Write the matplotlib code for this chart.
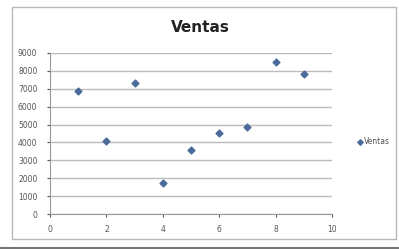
import matplotlib.pyplot as plt
from matplotlib.patches import Rectangle
from matplotlib.lines import Line2D

x_values = [1, 2, 3, 4, 5, 6, 7, 8, 9]
ventas = [6900, 4100, 7300, 1750, 3600, 4550, 4850, 8500, 7800]
x_ticks = [0, 2, 4, 6, 8, 10]
y_ticks = [0, 1000, 2000, 3000, 4000, 5000, 6000, 7000, 8000, 9000]

W, H = 399, 250
fig = plt.figure(figsize=(W / 100, H / 100), dpi=100)
fig.patch.set_facecolor("white")

# chart frame and bottom line
fig.patches.append(Rectangle((12 / W, 1 - 239 / H), (396 - 12) / W, (239 - 7) / H,
                             transform=fig.transFigure, fill=False,
                             edgecolor="#b8b8b8", linewidth=1))
fig.lines.append(Line2D([0, 1], [1 - 248 / H, 1 - 248 / H], transform=fig.transFigure,
                        color="#777777", linewidth=1.5))

ax = fig.add_axes([50 / W, 1 - 214 / H, (332 - 50) / W, (214 - 53) / H])
ax.scatter(x_values, ventas, marker="D", s=12, color="#4a6b9a", zorder=3, label="Ventas")

ax.set_xlim(0, 10)
ax.set_ylim(0, 9000)
ax.set_xticks(x_ticks)
ax.set_yticks(y_ticks)
ax.grid(axis="y", color="#bbbbbb", linewidth=1)
ax.set_axisbelow(True)
for s in ["top", "right"]:
    ax.spines[s].set_visible(False)
for s in ["left", "bottom"]:
    ax.spines[s].set_color("#999999")
ax.tick_params(labelsize=5.5, colors="#555555", length=2, width=0.8)
ax.tick_params(axis="y", pad=7)
ax.tick_params(axis="x", pad=6)

fig.text(200 / W, 1 - 28 / H, "Ventas", ha="center", va="center",
         fontsize=11, fontweight="bold", color="#222222")

leg = ax.legend(loc="center left", bbox_to_anchor=(352 / W, 1 - 142 / H),
                bbox_transform=fig.transFigure, frameon=False, fontsize=5.5,
                handletextpad=0.1, markerscale=0.8, borderpad=0, handlelength=1)
for t in leg.get_texts():
    t.set_color("#555555")

fig.savefig("out.png", dpi=100)
